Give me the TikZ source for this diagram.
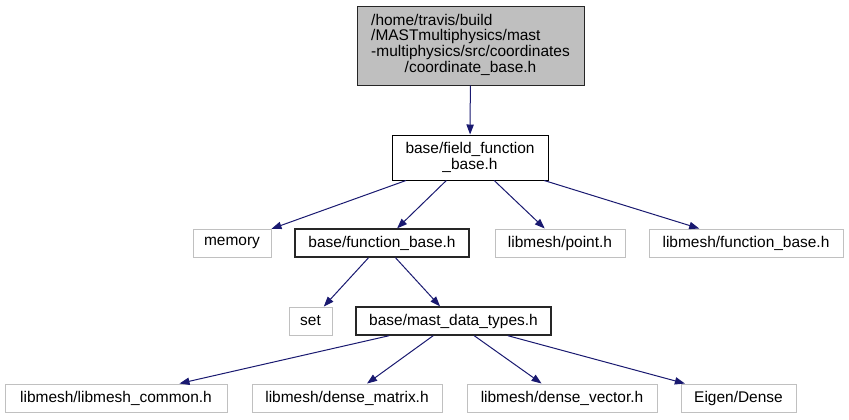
\documentclass[tikz,border=0pt]{standalone}
\usepackage{fontspec}
\setmainfont{Liberation Sans}
\usetikzlibrary{arrows.meta}
\definecolor{edgec}{HTML}{191970}
\definecolor{fillg}{HTML}{BFBFBF}
\definecolor{lightb}{HTML}{C0C0C0}
\begin{document}
\begin{tikzpicture}[x=0.75pt,y=-0.75pt,
  font=\fontsize{11.6}{11.6}\selectfont,
  box/.style={draw, inner sep=0pt, minimum height=21pt, align=center, line width=0.75pt},
  mainbox/.style={box, draw=black!85, line width=1pt},
  extbox/.style={box, draw=lightb},
  edge/.style={draw=edgec, line width=0.75pt, -{Triangle[length=7.5pt,width=5.5pt]}}]
\useasboundingbox (0,0) rectangle (849,419);
\node[box, fill=fillg, draw=black!85, minimum width=170.25pt, minimum height=59.25pt] (top) at (470.5,45.5)
  {\begin{tabular}{@{}l@{}}/home/travis/build\\/MASTmultiphysics/mast\\-multiphysics/src/coordinates\\\multicolumn{1}{@{}c@{}}{/coordinate\_base.h}\end{tabular}};
\node[box, draw=black, minimum width=117pt, minimum height=33.75pt] (ffb) at (470,157.5)
  {base/field\_function\\\_base.h};
\node[extbox, minimum width=58.5pt] (memory) at (232,243) {memory};
\node[mainbox, minimum width=130.5pt] (fb) at (382,243) {base/function\_base.h};
\node[extbox, minimum width=97.5pt] (point) at (560,243) {libmesh/point.h};
\node[extbox, minimum width=145.5pt] (lfb) at (746,243) {libmesh/function\_base.h};
\node[extbox, minimum width=32.25pt] (set) at (310.5,321) {set};
\node[mainbox, minimum width=146.25pt] (mdt) at (453.5,321) {base/mast\_data\_types.h};
\node[extbox, minimum width=166.5pt] (common) at (116,398) {libmesh/libmesh\_common.h};
\node[extbox, minimum width=142.5pt] (matrix) at (347,398) {libmesh/dense\_matrix.h};
\node[extbox, minimum width=142.5pt] (vector) at (562,398) {libmesh/dense\_vector.h};
\node[extbox, minimum width=86.25pt] (eigen) at (738.5,398) {Eigen/Dense};
\draw[edge] (top) -- (ffb);
\draw[edge] (ffb) -- (memory);
\draw[edge] (ffb) -- (fb);
\draw[edge] (ffb) -- (point);
\draw[edge] (ffb) -- (lfb);
\draw[edge] (fb) -- (set);
\draw[edge] (fb) -- (mdt);
\draw[edge] (mdt) -- (common);
\draw[edge] (mdt) -- (matrix);
\draw[edge] (mdt) -- (vector);
\draw[edge] (mdt) -- (eigen);
\end{tikzpicture}
\end{document}
